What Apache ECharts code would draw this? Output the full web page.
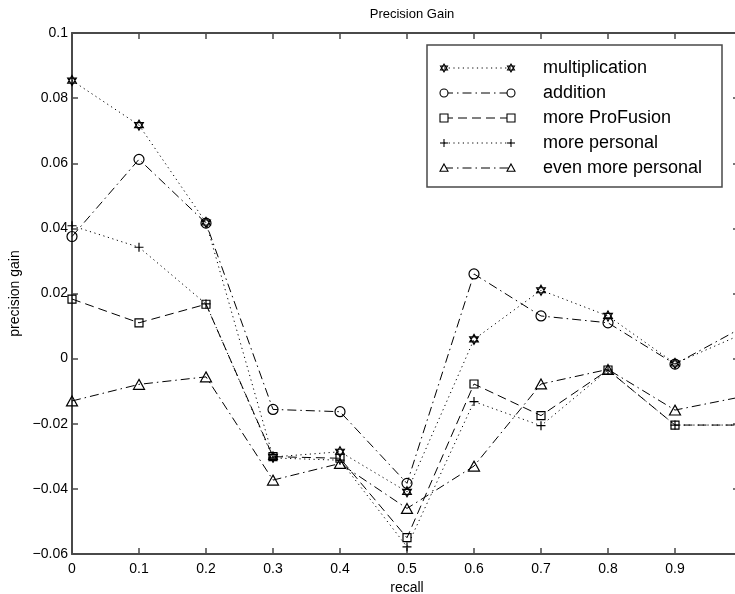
<!DOCTYPE html>
<html>
<head>
<meta charset="utf-8">
<script src="https://cdn.jsdelivr.net/npm/echarts@6/dist/echarts.min.js"></script>
<style>
  html, body { margin: 0; padding: 0; background: #fff; }
  #chart { width: 735px; height: 594px; }
</style>
</head>
<body>
<div id="chart"></div>
<script>
// Recall levels (x axis)
const recall = [0, 0.1, 0.2, 0.3, 0.4, 0.5, 0.6, 0.7, 0.8, 0.9, 1.0];

// Precision gain per method
const multiplication   = [0.0854, 0.0717, 0.0418, -0.0302, -0.0286, -0.0409, 0.0059, 0.0210, 0.0131, -0.0015, 0.0075];
const addition         = [0.0375, 0.0612, 0.0416, -0.0156, -0.0163, -0.0383, 0.0260, 0.0131, 0.0110, -0.0017, 0.0095];
const moreProFusion    = [0.0183, 0.0110, 0.0167, -0.0301, -0.0306, -0.0550, -0.0078, -0.0175, -0.0035, -0.0204, -0.0204];
const morePersonal     = [0.0408, 0.0342, 0.0168, -0.0305, -0.0312, -0.0578, -0.0132, -0.0206, -0.0035, -0.0204, -0.0204];
const evenMorePersonal = [-0.0130, -0.0079, -0.0056, -0.0373, -0.0322, -0.0460, -0.0330, -0.0078, -0.0033, -0.0158, -0.0117];

// Axis labels
const seriesNames = ['multiplication', 'addition', 'more ProFusion', 'more personal', 'even more personal'];
const xTickLabels = ['0', '0.1', '0.2', '0.3', '0.4', '0.5', '0.6', '0.7', '0.8', '0.9', ''];

// Marker outlines (10x10 boxes)
const PATHS = {
  hexagram: 'M5,0 L9.33,7.5 L0.67,7.5 Z M5,10 L0.67,2.5 L9.33,2.5 Z',
  circle: 'M0,5 A5,5 0 1,1 10,5 A5,5 0 1,1 0,5 Z',
  square: 'M0,0 L10,0 L10,10 L0,10 Z',
  plus: 'M5,0 L5,10 M0,5 L10,5',
  triangle: 'M5,0 L10,9 L0,9 Z'
};
const DOTTED = [1.2, 3.5];
const DASHED = [9, 5];
const DASHDOT = [9, 4, 1.5, 4];

const styles = [
  { values: multiplication,   marker: 'hexagram', size: 10, dash: DOTTED },
  { values: addition,         marker: 'circle',   size: 10, dash: DASHDOT },
  { values: moreProFusion,    marker: 'square',   size: 8,  dash: DASHED },
  { values: morePersonal,     marker: 'plus',     size: 9,  dash: DOTTED },
  { values: evenMorePersonal, marker: 'triangle', size: 11, dash: DASHDOT }
];

const FONT = '"Liberation Sans", Arial, Helvetica, sans-serif';
const AXIS_COLOR = '#4a4a4a';

const series = styles.map((s, i) => ({
  name: seriesNames[i],
  type: 'line',
  xAxisIndex: 0,
  yAxisIndex: 0,
  data: recall.map((x, k) => [x, s.values[k]]),
  symbol: 'path://' + PATHS[s.marker],
  symbolSize: s.size,
  symbolKeepAspect: true,
  showAllSymbol: true,
  clip: true,
  silent: true,
  lineStyle: { color: '#000', width: 1, type: s.dash },
  itemStyle: { color: 'rgba(0,0,0,0)', borderColor: '#000', borderWidth: 1.2 },
  emphasis: { disabled: true }
}));

// Small legend marker built from plain shapes, centred on (cx, cy)
function legendMarker(kind, cx, cy, r) {
  const st = { fill: '#fff', stroke: '#000', lineWidth: 1.1 };
  if (kind === 'circle') {
    return [{ type: 'circle', shape: { cx: cx, cy: cy, r: r }, style: st }];
  }
  if (kind === 'square') {
    return [{ type: 'rect', shape: { x: cx - r, y: cy - r, width: 2 * r, height: 2 * r }, style: st }];
  }
  if (kind === 'plus') {
    return [
      { type: 'line', shape: { x1: cx - r, y1: cy, x2: cx + r, y2: cy }, style: { stroke: '#000', lineWidth: 1.1 } },
      { type: 'line', shape: { x1: cx, y1: cy - r, x2: cx, y2: cy + r }, style: { stroke: '#000', lineWidth: 1.1 } }
    ];
  }
  if (kind === 'triangle') {
    return [{ type: 'polygon', shape: { points: [[cx, cy - r], [cx + r, cy + r * 0.8], [cx - r, cy + r * 0.8]] }, style: st }];
  }
  // hexagram: two overlapping triangles
  const h = r * 0.87;
  return [
    { type: 'polygon', shape: { points: [[cx, cy - r], [cx + h, cy + r / 2], [cx - h, cy + r / 2]] }, style: { fill: 'none', stroke: '#000', lineWidth: 1.1 } },
    { type: 'polygon', shape: { points: [[cx, cy + r], [cx - h, cy - r / 2], [cx + h, cy - r / 2]] }, style: { fill: 'none', stroke: '#000', lineWidth: 1.1 } }
  ];
}

// Boxed legend: marker, line, marker, then the name
const legendBox = { x: 427, y: 45, w: 295, h: 142 };
const legendChildren = [{
  type: 'rect',
  shape: { x: legendBox.x, y: legendBox.y, width: legendBox.w, height: legendBox.h },
  style: { fill: '#fff', stroke: AXIS_COLOR, lineWidth: 1.5 }
}];
styles.forEach((s, i) => {
  const cy = 68 + i * 25;
  const x1 = 444, x2 = 511;
  legendChildren.push({
    type: 'line',
    shape: { x1: x1, y1: cy, x2: x2, y2: cy },
    style: { stroke: '#000', lineWidth: 1, lineDash: s.dash }
  });
  legendChildren.push.apply(legendChildren, legendMarker(s.marker, x1, cy, 4));
  legendChildren.push.apply(legendChildren, legendMarker(s.marker, x2, cy, 4));
  legendChildren.push({
    type: 'text',
    x: 543, y: cy,
    style: { text: seriesNames[i], font: '18px ' + FONT, fill: '#000', verticalAlign: 'middle', align: 'left' }
  });
});

const commonX = { type: 'value', min: 0, max: 1, interval: 0.1 };
const commonY = { type: 'value', min: -0.06, max: 0.1, interval: 0.02 };
const tickStyle = { show: true, inside: true, length: 6, lineStyle: { color: AXIS_COLOR, width: 1.5 } };
const rightTickStyle = { show: true, inside: true, length: 9, lineStyle: { color: AXIS_COLOR, width: 1.5 } };
const lineStyleAxis = { show: true, onZero: false, lineStyle: { color: AXIS_COLOR, width: 2 } };

const option = {
  animation: false,
  backgroundColor: '#fff',
  title: {
    text: 'Precision Gain',
    left: 407, top: 3,
    textAlign: 'center',
    textStyle: { fontFamily: FONT, fontSize: 13, fontWeight: 'normal', color: '#000' }
  },
  grid: { left: 72, top: 33, width: 670, bottom: 40, containLabel: false, outerBoundsMode: 'none' },
  xAxis: [
    Object.assign({}, commonX, {
      position: 'bottom',
      name: 'recall',
      nameLocation: 'middle',
      nameGap: 24,
      nameTextStyle: { fontFamily: FONT, fontSize: 14, color: '#000', verticalAlign: 'top' },
      axisLine: lineStyleAxis,
      axisTick: tickStyle,
      axisLabel: {
        show: true, margin: 8, color: '#000', fontFamily: FONT, fontSize: 14,
        formatter: v => xTickLabels[Math.round(v * 10)]
      },
      splitLine: { show: false }
    }),
    Object.assign({}, commonX, {
      position: 'top',
      axisLine: lineStyleAxis,
      axisTick: tickStyle,
      axisLabel: { show: false },
      splitLine: { show: false }
    })
  ],
  yAxis: [
    Object.assign({}, commonY, {
      position: 'left',
      name: 'precision gain',
      nameLocation: 'middle',
      nameGap: 42,
      nameRotate: 90,
      nameTextStyle: { fontFamily: FONT, fontSize: 14, color: '#000' },
      axisLine: lineStyleAxis,
      axisTick: tickStyle,
      axisLabel: {
        show: true, margin: 4, color: '#000', fontFamily: FONT, fontSize: 14,
        formatter: v => {
          const r = Math.round(v * 100) / 100;
          if (r === 0) return '0';
          return r < 0 ? '\u2212' + String(-r) : String(r);
        }
      },
      splitLine: { show: false }
    }),
    Object.assign({}, commonY, {
      position: 'right',
      axisLine: lineStyleAxis,
      axisTick: rightTickStyle,
      axisLabel: { show: false },
      splitLine: { show: false }
    })
  ],
  series: series,
  graphic: { elements: [{ type: 'group', children: legendChildren }] }
};

const chart = echarts.init(document.getElementById('chart'), null, { renderer: 'canvas' });
chart.setOption(option);
</script>
</body>
</html>
